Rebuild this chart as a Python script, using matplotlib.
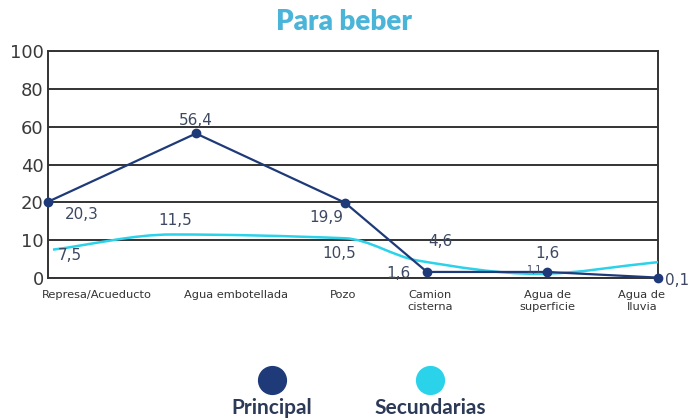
import numpy as np
import matplotlib
matplotlib.use("Agg")
import matplotlib.pyplot as plt
from matplotlib.path import Path
from matplotlib.patches import PathPatch
from matplotlib.lines import Line2D

# Datos
categorias = ["Represa/Acueducto", "Agua embotellada", "Pozo", "Camion\ncisterna",
              "Agua de\nsuperficie", "Agua de\nlluvia"]
principal = [20.3, 56.4, 19.9, 1.6, 1.6, 0.1]
secundarias = [7.5, 11.5, 10.5, 4.6, 1.1, 4.2]
principal_lbl = ["20,3", "56,4", "19,9", "1,6", "1,6", "0,1"]
secundarias_lbl = ["7,5", "11,5", "10,5", "4,6", "1,1", ""]
y_ticks = [0, 10, 20, 40, 60, 80, 100]

# posiciones horizontales (la infografia no usa espaciado regular)
x_prin = [0, 148, 297, 379, 499, 610]
x_sec = [5, 124, 297, 370, 489, 610]
x_cat = [49, 188, 295, 382, 499, 594]

c_prin = "#1f3a78"
c_sec = "#2ad2ea"
c_txt = "#3d4862"

# escala y por tramos: cada marca ocupa el mismo espacio
steps = np.arange(len(y_ticks), dtype=float)
def fwd(v):
    return np.interp(v, y_ticks, steps)
def inv(v):
    return np.interp(v, steps, y_ticks)

fig = plt.figure(figsize=(6.88, 4.2), dpi=100)
ax = fig.add_axes([48 / 688, 142 / 420, 610 / 688, 227 / 420])
ax.set_yscale("function", functions=(fwd, inv))
ax.set_ylim(0, 100)
ax.set_xlim(0, 610)
ax.set_yticks(y_ticks)
ax.set_yticklabels([str(t) for t in y_ticks], fontsize=13, color="#3a3a3a")
ax.tick_params(axis="y", length=0, pad=3)
ax.set_xticks([])
for t in y_ticks:
    ax.axhline(t, color="#333333", lw=1.4, zorder=1)
for s in ax.spines.values():
    s.set_color("#333333")
    s.set_linewidth(1.4)

# linea secundaria suavizada (bezier monotona, sin sobrepasar los puntos)
xs = np.array(x_sec, dtype=float)
ys = np.array(secundarias, dtype=float)
sec = np.diff(ys) / np.diff(xs)
m = np.zeros_like(ys)
m[0], m[-1] = sec[0], sec[-1]
for i in range(1, len(ys) - 1):
    if sec[i - 1] * sec[i] > 0:
        m[i] = 2 / (1 / sec[i - 1] + 1 / sec[i])
verts = [(xs[0], ys[0])]
codes = [Path.MOVETO]
for i in range(len(xs) - 1):
    dx = (xs[i + 1] - xs[i]) / 3
    verts += [(xs[i] + dx, ys[i] + m[i] * dx),
              (xs[i + 1] - dx, ys[i + 1] - m[i + 1] * dx),
              (xs[i + 1], ys[i + 1])]
    codes += [Path.CURVE4] * 3
ax.add_patch(PathPatch(Path(verts, codes), fill=False, edgecolor=c_sec,
                       lw=1.8, zorder=3, clip_on=False))

ax.plot(x_prin, principal, color=c_prin, lw=1.6, marker="o", ms=6, zorder=4,
        clip_on=False)

# etiquetas de valores
prin_off = [(12, -9), (0, 9), (-1, -11), (-12, -1), (0, 13), (5, -2)]
prin_ha = ["left", "center", "right", "right", "center", "left"]
for x, y, s, o, ha in zip(x_prin, principal, principal_lbl, prin_off, prin_ha):
    ax.annotate(s, (x, y), xytext=o, textcoords="offset points", ha=ha,
                va="center", fontsize=11, color=c_txt, zorder=5)

sec_off = [(12, -4), (2, 10), (-4, -11), (16, 14), (-2, 3)]
sec_size = [11, 11, 11, 11, 7]
for x, y, s, o, fs in zip(x_sec, secundarias, secundarias_lbl, sec_off, sec_size):
    if s:
        ax.annotate(s, (x, y), xytext=o, textcoords="offset points", ha="center",
                    va="center", fontsize=fs, color=c_txt, zorder=5)

# categorias
for x, c in zip(x_cat, categorias):
    ax.text(x, -0.055, c, transform=ax.get_xaxis_transform(), ha="center",
            va="top", fontsize=8.2, color="#333333", linespacing=1.25)

fig.text(0.5, 1 - 22 / 420, "Para beber", ha="center", va="center",
         fontsize=20, fontweight="heavy", family="Lato", color="#4ab5d8")

# leyenda
for xp, col, lab in [(272, c_prin, "Principal"), (430, c_sec, "Secundarias")]:
    fig.add_artist(Line2D([xp / 688], [1 - 380 / 420], marker="o", ms=20,
                          color=col, transform=fig.transFigure, lw=0))
    fig.text(xp / 688, 1 - 408 / 420, lab, ha="center", va="center",
             fontsize=15, fontweight="bold", family="Lato", color="#2c3a57")

fig.savefig("out.png", dpi=100)
